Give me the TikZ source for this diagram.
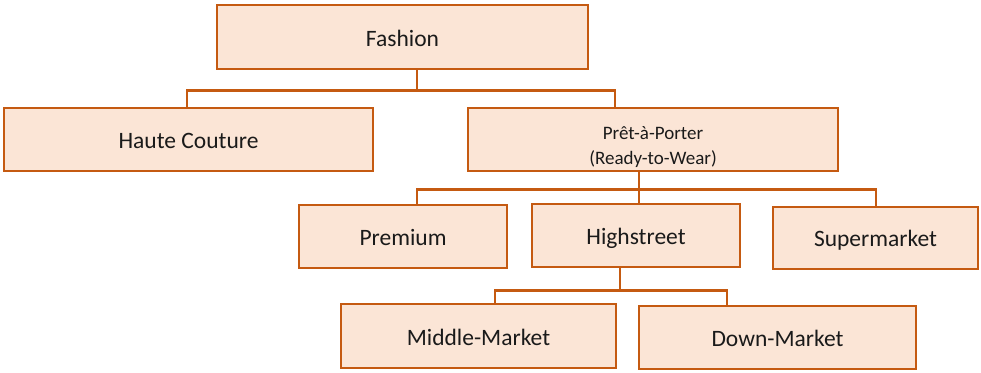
\documentclass[tikz,border=0pt]{standalone}
\usepackage{fontspec}
\setmainfont{Carlito}
\definecolor{boxline}{HTML}{C55A11}
\definecolor{boxfill}{HTML}{FBE5D6}
\definecolor{txt}{HTML}{1A1A1A}
\begin{document}
\begin{tikzpicture}[x=1pt,y=-1pt,
  box/.style={draw=boxline,fill=boxfill,line width=2.5pt,rectangle,inner sep=0pt,
    text=txt,font=\fontsize{23.5}{24}\selectfont,align=center,text height=17pt,text depth=0pt},
  conn/.style={draw=boxline,line width=2.5pt}]
\useasboundingbox (0,0) rectangle (981,372);
\node[box,minimum width=371pt,minimum height=64pt,text height=19pt] (fashion) at (402.5,37) {Fashion};
\node[box,minimum width=369pt,minimum height=63pt] (haute) at (188.5,139.5) {Haute Couture};
\node[box,minimum width=370pt,minimum height=63pt,font=\fontsize{19}{24}\selectfont,text height=25pt] (pret) at (653,139.5) {\begin{tabular}{@{}c@{}}Prêt-à-Porter\\[1pt](Ready-to-Wear)\end{tabular}};
\node[box,minimum width=208pt,minimum height=63pt] (prem) at (403,236.5) {Premium};
\node[box,minimum width=208pt,minimum height=63pt,text height=18pt] (high) at (636,235.5) {Highstreet};
\node[box,minimum width=205pt,minimum height=62pt] (super) at (875.5,238) {Supermarket};
\node[box,minimum width=275pt,minimum height=64pt,text height=18pt] (middle) at (478.5,336) {Middle-Market};
\node[box,minimum width=277pt,minimum height=63pt] (down) at (777.5,337.5) {Down-Market};
% level 1
\draw[conn] ([xshift=14.5]fashion.south) -- ++(0,20) coordinate (b1);
\draw[conn] ([xshift=-1.5]haute.north) |- (b1) -| ([xshift=-38]pret.north);
% level 2
\draw[conn] ([xshift=-14]pret.south) -- ++(0,17) coordinate (b2);
\draw[conn] ([xshift=14]prem.north) |- (b2) -| ([xshift=0.5]super.north);
\draw[conn] (b2) -- ([xshift=3]high.north);
% level 3
\draw[conn] ([xshift=-16]high.south) -- ++(0,22) coordinate (b3);
\draw[conn] ([xshift=16.5]middle.north) |- (b3) -| ([xshift=-50.5]down.north);
\end{tikzpicture}
\end{document}
